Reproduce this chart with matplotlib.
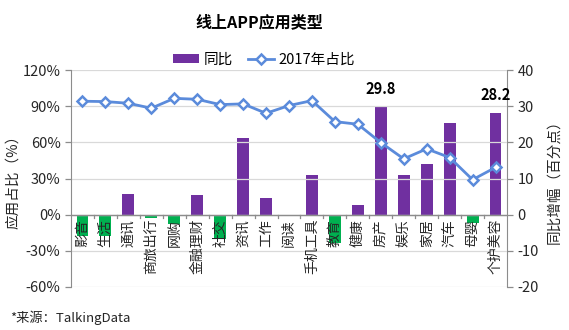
import matplotlib
matplotlib.use("Agg")
import matplotlib.pyplot as plt
import matplotlib.transforms as mtransforms
from matplotlib.lines import Line2D
from matplotlib.patches import Patch
import numpy as np

plt.rcParams['font.family'] = ['Noto Sans CJK SC', 'DejaVu Sans']

categories = ['影音', '生活', '通讯', '商旅出行', '网购', '金融理财', '社交', '资讯', '工作',
              '阅读', '手机工具', '教育', '健康', '房产', '娱乐', '家居', '汽车', '母婴', '个护美容']
# 同比增幅（百分点）
yoy_change = [-6.0, -5.8, 5.7, -0.8, -2.7, 5.4, -6.6, 21.2, 4.7,
              0.0, 11.0, -7.8, 2.7, 29.8, 11.0, 14.1, 25.4, -2.2, 28.2]
# 2017年占比（%）
share_2017 = [94.1, 93.8, 92.4, 88.3, 96.5, 95.7, 91.3, 91.9, 84.1,
              90.5, 94.6, 77.2, 75.0, 59.8, 46.3, 54.6, 47.4, 29.0, 39.2]
labeled_bars = ['房产', '个护美容']

left_ticks = [-60, -30, 0, 30, 60, 90, 120]
left_ticklabels = ['-60%', '-30%', '0%', '30%', '60%', '90%', '120%']
right_ticks = [-20, -10, 0, 10, 20, 30, 40]

PURPLE = '#7030A0'
GREEN = '#00B050'
BLUE = '#5B8BDB'
GRID = '#D9D9D9'
AXIS = '#8C8C8C'
TEXT = '#262626'

fig = plt.figure(figsize=(5.69, 3.30), dpi=100)
ax = fig.add_axes([71 / 569, 1 - 287 / 330, 436 / 569, 217 / 330])
ax2 = ax.twinx()

x = np.arange(len(categories))

# left axis: share line; right axis: year-over-year bars
ax.set_ylim(-60, 120)
ax.set_xlim(-0.5, len(categories) - 0.5)
ax2.set_ylim(-20, 40)

ax.set_yticks(left_ticks)
ax.set_yticklabels(left_ticklabels)
ax2.set_yticks(right_ticks)
ax2.set_yticklabels([str(t) for t in right_ticks])

for t in left_ticks:
    ax.axhline(t, color=GRID, lw=0.9, zorder=0)

bar_colors = [PURPLE if v >= 0 else GREEN for v in yoy_change]
ax2.bar(x, yoy_change, width=0.52, color=bar_colors, zorder=2)

for cat, v in zip(categories, yoy_change):
    if cat in labeled_bars:
        i = categories.index(cat)
        ax2.annotate(f'{v:.1f}', (i, v), xytext=(0, 7), textcoords='offset points',
                     ha='center', va='bottom', fontsize=10.5, fontweight='bold', color='black')

# put the line on top of the bars
ax.set_zorder(ax2.get_zorder() + 1)
ax.patch.set_visible(False)
ax.plot(x, share_2017, color=BLUE, lw=2, marker='D', markersize=5.5,
        markerfacecolor='white', markeredgecolor=BLUE, markeredgewidth=1.8, zorder=5)

# category axis at zero with separators between categories
ax.axhline(0, color=AXIS, lw=1, zorder=3)
for b in np.arange(0.5, len(categories) - 0.5, 1.0):
    ax.plot([b, b], [0, -2.8], color=AXIS, lw=0.9, zorder=3, clip_on=False)
ax.set_xticks([])

off = mtransforms.offset_copy(ax.transData, fig=fig, x=0, y=-3, units='points')
for i, c in enumerate(categories):
    ax.text(i, 0, c, rotation=90, ha='center', va='top', fontsize=10,
            color=TEXT, transform=off, zorder=6)

for a in (ax, ax2):
    a.spines['top'].set_visible(False)
    a.spines['bottom'].set_visible(False)
    a.spines['left'].set_color(AXIS)
    a.spines['right'].set_color(AXIS)
    a.tick_params(axis='y', colors=AXIS, labelcolor=TEXT, labelsize=10.5, length=4, width=0.9)
ax.spines['right'].set_visible(False)
ax2.spines['left'].set_visible(False)

ax.set_ylabel('应用占比（%）', fontsize=10.5, color=TEXT, labelpad=2)
ax2.set_ylabel('同比增幅（百分点）', fontsize=10.5, color=TEXT, labelpad=6)

fig.text(259 / 569, 1 - 22 / 330, '线上APP应用类型', ha='center', va='center',
         fontsize=11.5, fontweight='bold', color='black')

handles = [Patch(facecolor=PURPLE, edgecolor='none'),
           Line2D([0], [0], color=BLUE, lw=2, marker='D', markersize=5,
                  markerfacecolor='white', markeredgecolor=BLUE, markeredgewidth=1.8)]
fig.legend(handles, ['同比', '2017年占比'], loc='center', bbox_to_anchor=(264 / 569, 1 - 60 / 330),
           ncol=2, frameon=False, fontsize=10.5, handlelength=1.8, handleheight=0.6,
           columnspacing=1.0, handletextpad=0.3)

fig.text(10 / 569, 1 - 318 / 330, '*来源：TalkingData', ha='left', va='center',
         fontsize=9.5, color=TEXT)

fig.savefig('out.png', dpi=100)
